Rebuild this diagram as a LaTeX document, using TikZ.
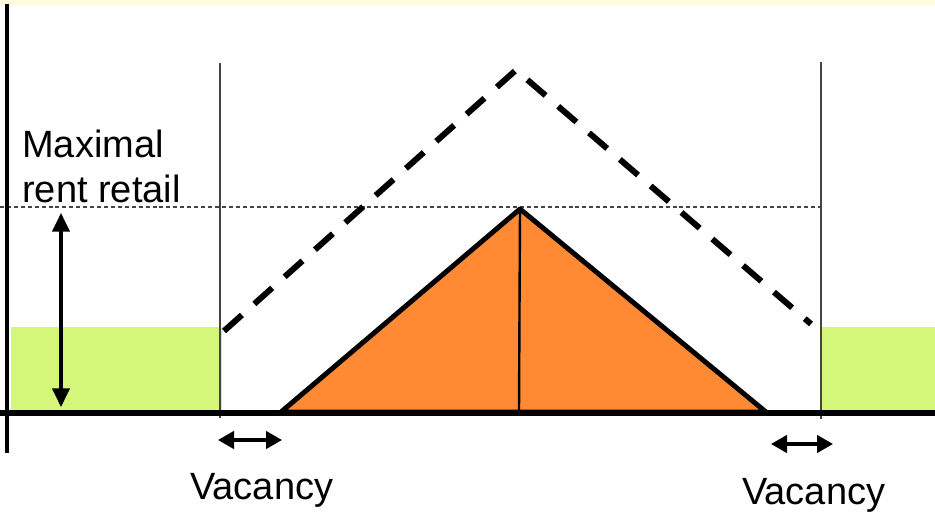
\documentclass[tikz,border=0pt]{standalone}
\usepackage{fontspec}
\setmainfont{Liberation Sans}
\usetikzlibrary{arrows.meta}
\definecolor{rentgreen}{HTML}{D4F77A}
\definecolor{rentorange}{HTML}{FF8A33}
\definecolor{bandyellow}{HTML}{FFFBDC}
\definecolor{guidegray}{HTML}{444444}
\tikzset{
  axisline/.style={line width=4.8pt, black},
  yaxisline/.style={line width=2.6pt, black},
  guideline/.style={line width=1pt, guidegray},
  levelline/.style={line width=0.8pt, guidegray, dash pattern=on 3pt off 2.2pt},
  potential/.style={line width=4.5pt, black, dash pattern=on 18pt off 12.5pt},
  retailarea/.style={fill=rentorange, draw=black, line width=3.7pt, line join=round},
  splitline/.style={line width=1.8pt, black},
  greenzone/.style={fill=rentgreen, draw=none},
  dimarrow/.style={line width=2.6pt, black, {Triangle[width=13pt,length=14pt]}-{Triangle[width=13pt,length=14pt]}},
  vacarrow/.style={line width=2.6pt, black, {Triangle[width=13pt,length=12pt]}-{Triangle[width=13pt,length=12pt]}},
  label/.style={font=\fontsize{28.5}{33.8}\selectfont, inner sep=0pt, text=black}
}
\begin{document}
\begin{tikzpicture}[x=0.75pt, y=-0.75pt]
  \useasboundingbox (0,0) rectangle (935,514);
  % top band
  \fill[bandyellow] (0,0) rectangle (935,4.5);
  % green zones
  \fill[greenzone] (11,327) rectangle (222,410);
  \fill[greenzone] (821,327) rectangle (935,410);
  % coordinates
  \coordinate (ltop) at (220,63);
  \coordinate (lbot) at (220,418);
  \coordinate (rtop) at (821,62);
  \coordinate (rbot) at (821,419);
  \coordinate (lvl0) at (0,207);
  \coordinate (lvl1) at (821,207);
  \coordinate (pl) at (224,331);
  \coordinate (pp) at (516,70);
  \coordinate (pr) at (811,324);
  \coordinate (tl) at (281,412);
  \coordinate (ta) at (520,209);
  \coordinate (tr) at (766,412);
  \coordinate (tb) at (519,412);
  \coordinate (ya) at (61,213);
  \coordinate (yb) at (61,407);
  \coordinate (va1) at (218,440);
  \coordinate (va2) at (282,440);
  \coordinate (vb1) at (771,444);
  \coordinate (vb2) at (833,444);
  \coordinate (xa) at (0,413);
  \coordinate (xb) at (935,413);
  \coordinate (yt) at (7,4);
  \coordinate (ybt) at (7,453);
  % guides
  \draw[guideline] (ltop) -- (lbot);
  \draw[guideline] (rtop) -- (rbot);
  \draw[levelline] (lvl0) -- (lvl1);
  % potential rent (dashed)
  \draw[potential] (pl) -- (pp) -- (pr);
  % retail triangle
  \draw[retailarea] (tl) -- (ta) -- (tr) -- cycle;
  \draw[splitline] (ta) -- (tb);
  % axes
  \draw[axisline] (xa) -- (xb);
  \draw[yaxisline] (yt) -- (ybt);
  % arrows
  \draw[dimarrow] (ya) -- (yb);
  \draw[vacarrow] (va1) -- (va2);
  \draw[vacarrow] (vb1) -- (vb2);
  % labels
  \node[label, anchor=north west, align=left] (maxrent) at (22,130) {Maximal\\rent retail};
  \node[label, anchor=base west] (vacl) at (190,499) {Vacancy};
  \node[label, anchor=base west] (vacr) at (742,504) {Vacancy};
\end{tikzpicture}
\end{document}
